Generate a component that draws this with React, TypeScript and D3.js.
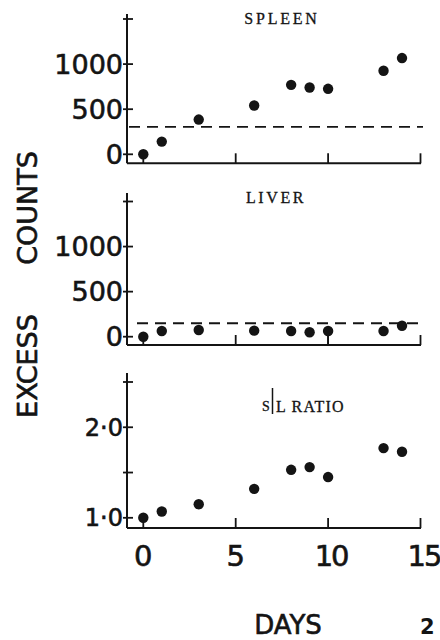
import React from "react";
import * as d3 from "d3";

// ---- data ----
const days = [0, 1, 3, 6, 8, 9, 10, 13, 14];
const spleenCounts = [0, 141, 385, 541, 770, 741, 726, 926, 1067];
const liverCounts = [0, 63, 74, 67, 63, 49, 63, 63, 122];
const slRatio = [1.0, 1.07, 1.15, 1.32, 1.53, 1.56, 1.45, 1.77, 1.73];
const spleenBaseline = 303;
const liverBaseline = 149;
const spleenErrBars = [{ day: 0, value: 0, low: -100 }];
const liverErrBars = [
  { day: 0, value: 0, low: -100 },
  { day: 10, value: 63, low: -100 },
];
const ratioErrBars = [{ day: 0, value: 1.0, low: 0.89 }];
const countTicks = [0, 500, 1000, 1500];
const countTickLabels = ["0", "500", "1000", ""];
const ratioTicks = [1.0, 1.5, 2.0, 2.5];
const ratioTickLabels = ["1·0", "", "2·0", ""];
const dayTicks = [0, 5, 10, 15];
const dayTickLabels = ["0", "5", "10", "15"];

const INK = "#141414";
const SANS = "'DejaVu Sans', sans-serif";
const SERIF = "'Liberation Serif', 'DejaVu Serif', serif";

const x = d3.scaleLinear().domain([0, 15]).range([143.3, 420.5]);
const AXIS_X = 127;
const X_END = 421;

type PanelProps = {
  y: d3.ScaleLinear<number, number>;
  values: number[];
  ticks: number[];
  tickLabels: string[];
  axisTop: number;
  axisBottom: number;
  labelSize: number;
  baseline?: number;
  dashStart?: number;
  errBars: { day: number; value: number; low: number }[];
};

function Panel(p: PanelProps) {
  const { y } = p;
  return (
    <g>
      <line x1={AXIS_X} x2={AXIS_X} y1={p.axisTop} y2={p.axisBottom} stroke={INK} strokeWidth={2} />
      <line x1={AXIS_X} x2={X_END} y1={p.axisBottom} y2={p.axisBottom} stroke={INK} strokeWidth={2} />
      {p.ticks.map((t, i) => (
        <g key={"yt" + i}>
          <line x1={AXIS_X - 4} x2={AXIS_X + 6} y1={y(t)} y2={y(t)} stroke={INK} strokeWidth={1.8} />
          {p.tickLabels[i] && (
            <text
              x={AXIS_X - 4}
              y={y(t)}
              dy="0.36em"
              textAnchor="end"
              fontFamily={SANS}
              fontSize={p.labelSize}
              fill={INK}
              stroke={INK}
              strokeWidth={0.6}
            >
              {p.tickLabels[i]}
            </text>
          )}
        </g>
      ))}
      {dayTicks.filter((d) => d > 0).map((d) => (
        <line key={"xt" + d} x1={x(d)} x2={x(d)} y1={p.axisBottom} y2={p.axisBottom - 10} stroke={INK} strokeWidth={1.8} />
      ))}
      {p.baseline !== undefined && (
        <line
          x1={p.dashStart ?? 130}
          x2={423}
          y1={y(p.baseline)}
          y2={y(p.baseline)}
          stroke={INK}
          strokeWidth={1.8}
          strokeDasharray="11 7"
        />
      )}
      {p.errBars.map((e, i) => (
        <line
          key={"eb" + i}
          x1={x(e.day)}
          x2={x(e.day)}
          y1={y(e.value)}
          y2={Math.min(y(e.low), p.axisBottom)}
          stroke={INK}
          strokeWidth={1.8}
        />
      ))}
      {p.values.map((v, i) => (
        <circle key={"pt" + i} cx={x(days[i])} cy={y(v)} r={5.2} fill={INK} />
      ))}
    </g>
  );
}

export default function App() {
  const ySpleen = d3.scaleLinear().domain([0, 1500]).range([154.3, 19]);
  const yLiver = d3.scaleLinear().domain([0, 1500]).range([336.7, 201.5]);
  const yRatio = d3.scaleLinear().domain([1, 2.5]).range([517.8, 382]);
  const xLabelX = [x(0), x(5), x(10) + 3, 424];

  return (
    <svg
      width={440}
      height={640}
      viewBox="0 0 440 640"
      style={{ position: "absolute", left: 0, top: 0, background: "#fff" }}
    >
      <rect width={440} height={640} fill="#fff" />
      <Panel
        y={ySpleen}
        values={spleenCounts}
        ticks={countTicks}
        tickLabels={countTickLabels}
        axisTop={14}
        axisBottom={163.3}
        labelSize={27}
        baseline={spleenBaseline}
        dashStart={129}
        errBars={spleenErrBars}
      />
      <Panel
        y={yLiver}
        values={liverCounts}
        ticks={countTicks}
        tickLabels={countTickLabels}
        axisTop={193}
        axisBottom={345}
        labelSize={27}
        baseline={liverBaseline}
        dashStart={137}
        errBars={liverErrBars}
      />
      <Panel
        y={yRatio}
        values={slRatio}
        ticks={ratioTicks}
        tickLabels={ratioTickLabels}
        axisTop={373}
        axisBottom={528}
        labelSize={24}
        errBars={ratioErrBars}
      />

      {/* panel titles */}
      <text x={282} y={24} textAnchor="middle" fontFamily={SERIF} fontSize={16} letterSpacing={2.8} fill={INK} stroke={INK} strokeWidth={0.3}>
        SPLEEN
      </text>
      <text x={276} y={203} textAnchor="middle" fontFamily={SERIF} fontSize={16} letterSpacing={2.6} fill={INK} stroke={INK} strokeWidth={0.3}>
        LIVER
      </text>
      <text x={262} y={411} fontFamily={SERIF} fontSize={14} fill={INK} stroke={INK} strokeWidth={0.3}>
        S
      </text>
      <line x1={272.5} x2={272.5} y1={388} y2={414} stroke={INK} strokeWidth={1.5} />
      <text x={276} y={411.5} fontFamily={SERIF} fontSize={16} letterSpacing={1.2} fill={INK} stroke={INK} strokeWidth={0.3}>
        L RATIO
      </text>

      {/* x tick labels */}
      {dayTicks.map((d, i) => (
        <text
          key={"xl" + d}
          x={xLabelX[i]}
          y={566}
          textAnchor="middle"
          fontFamily={SANS}
          fontSize={29}
          letterSpacing={d >= 10 ? -2 : 0}
          fill={INK}
          stroke={INK}
          strokeWidth={0.6}
        >
          {dayTickLabels[i]}
        </text>
      ))}

      {/* axis titles */}
      <text x={288} y={634} textAnchor="middle" fontFamily={SANS} fontSize={26} fill={INK} stroke={INK} strokeWidth={0.6}>
        DAYS
      </text>
      <text x={420} y={634} fontFamily={SANS} fontSize={21} fontWeight="bold" fill={INK}>
        2
      </text>
      <text
        transform="translate(37,208) rotate(-90)"
        textAnchor="middle"
        fontFamily={SANS}
        fontSize={27}
        fill={INK}
        stroke={INK}
        strokeWidth={0.6}
      >
        COUNTS
      </text>
      <text
        transform="translate(37,366) rotate(-90)"
        textAnchor="middle"
        fontFamily={SANS}
        fontSize={27}
        fill={INK}
        stroke={INK}
        strokeWidth={0.6}
      >
        EXCESS
      </text>
    </svg>
  );
}
